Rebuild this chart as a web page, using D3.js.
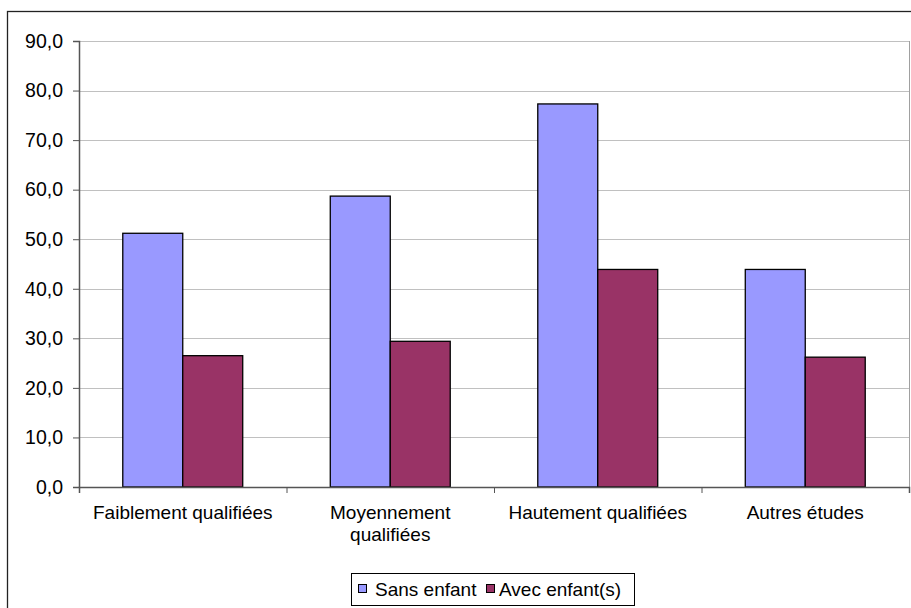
<!DOCTYPE html>
<html>
<head>
<meta charset="utf-8">
<script src="https://cdn.jsdelivr.net/npm/d3@7"></script>
<style>
  html, body { margin: 0; padding: 0; background: #fff; }
  svg { display: block; }
  text { font-family: "Liberation Sans", Arial, sans-serif; fill: #000; }
</style>
</head>
<body>
<svg id="chart" width="911" height="608"></svg>
<script>
// Education levels and employment rates (%) by household situation
const categories = ["Faiblement qualifiées", "Moyennement qualifiées", "Hautement qualifiées", "Autres études"];
const categoryLines = [["Faiblement qualifiées"], ["Moyennement", "qualifiées"], ["Hautement qualifiées"], ["Autres études"]];
const seriesNames = ["Sans enfant", "Avec enfant(s)"];
const sansEnfant = [51.2, 58.7, 77.3, 43.9];
const avecEnfants = [26.5, 29.4, 43.9, 26.2];
const yTicks = [0, 10, 20, 30, 40, 50, 60, 70, 80, 90];
const colors = ["#9999ff", "#993366"];

const svg = d3.select("#chart");
const W = 911, H = 608;
const plot = { left: 79, right: 909, top: 41, bottom: 487 };

// Outer chart frame
svg.append("rect")
  .attr("x", 7.5).attr("y", 11.5)
  .attr("width", W + 10).attr("height", H + 10)
  .attr("fill", "#fff").attr("stroke", "#222").attr("stroke-width", 1.3);

const x = d3.scaleBand().domain(categories).range([plot.left, plot.right]).paddingInner(0).paddingOuter(0);
const inner = d3.scaleBand().domain(seriesNames).range([0, x.bandwidth()]).paddingOuter(0.73).paddingInner(0);
const y = d3.scaleLinear().domain([0, 90]).range([plot.bottom, plot.top]);

// Horizontal gridlines
svg.append("g").selectAll("line").data(yTicks.filter(d => d > 0)).join("line")
  .attr("x1", plot.left).attr("x2", plot.right)
  .attr("y1", d => Math.round(y(d)) + 0.5).attr("y2", d => Math.round(y(d)) + 0.5)
  .attr("stroke", "#c0c0c0").attr("stroke-width", 1);

// Right edge of the plot area
svg.append("line")
  .attr("x1", plot.right + 0.5).attr("x2", plot.right + 0.5)
  .attr("y1", plot.top).attr("y2", plot.bottom)
  .attr("stroke", "#a0a0a0");

// Bars
const rows = categories.map((c, i) => ({ cat: c, values: [sansEnfant[i], avecEnfants[i]] }));
const groups = svg.append("g").selectAll("g").data(rows).join("g")
  .attr("transform", d => `translate(${x(d.cat)},0)`);
groups.selectAll("rect").data(d => d.values.map((v, j) => ({ name: seriesNames[j], v, j }))).join("rect")
  .attr("x", d => inner(d.name))
  .attr("width", inner.bandwidth())
  .attr("y", d => y(d.v))
  .attr("height", d => y(0) - y(d.v))
  .attr("fill", d => colors[d.j])
  .attr("stroke", "#000").attr("stroke-width", 1.3);

// Y axis
const yAxis = d3.axisLeft(y).tickValues(yTicks).tickSize(6).tickPadding(10)
  .tickFormat(d => d3.format(".1f")(d).replace(".", ","));
const gy = svg.append("g").attr("transform", `translate(${plot.left},0)`).call(yAxis);
gy.select(".domain").attr("stroke", "#555").attr("stroke-width", 1.5);
gy.selectAll(".tick line").attr("stroke", "#555");
gy.selectAll(".tick text").style("font-size", "19.5px")
  .style("font-family", "'Liberation Sans', Arial, sans-serif").attr("fill", "#000");

// X axis: ticks sit on category boundaries
const boundaries = categories.map(c => x(c)).concat([plot.right]);
const xb = d3.scaleLinear().domain([plot.left, plot.right]).range([plot.left, plot.right]);
const gx = svg.append("g").attr("transform", `translate(0,${plot.bottom})`)
  .call(d3.axisBottom(xb).tickValues(boundaries).tickSize(6).tickFormat(""));
gx.select(".domain").attr("stroke", "#555").attr("stroke-width", 1.5);
gx.selectAll(".tick line").attr("stroke", "#555");

// Category labels
svg.append("g").selectAll("text").data(categories).join("text")
  .attr("text-anchor", "middle")
  .style("font-size", "19px")
  .attr("transform", d => `translate(${x(d) + x.bandwidth() / 2},${plot.bottom + 32})`)
  .each(function (d, i) {
    d3.select(this).selectAll("tspan").data(categoryLines[i]).join("tspan")
      .attr("x", 0).attr("dy", (l, k) => k === 0 ? 0 : 22).text(l => l);
  });

// Legend
const legend = svg.append("g");
const lg = { x: 351, y: 573, w: 283, h: 32 };
legend.append("rect").attr("x", lg.x + 0.5).attr("y", lg.y + 0.5).attr("width", lg.w).attr("height", lg.h)
  .attr("fill", "#fff").attr("stroke", "#000").attr("stroke-width", 1);
const items = [{ name: seriesNames[0], sx: 358, tx: 375 }, { name: seriesNames[1], sx: 486, tx: 499 }];
items.forEach((it, j) => {
  legend.append("rect").attr("x", it.sx + 0.5).attr("y", 584.5).attr("width", 8).attr("height", 8)
    .attr("fill", colors[j]).attr("stroke", "#000").attr("stroke-width", 1);
  legend.append("text").attr("x", it.tx).attr("y", 596).style("font-size", "19px").text(it.name);
});
</script>
</body>
</html>
